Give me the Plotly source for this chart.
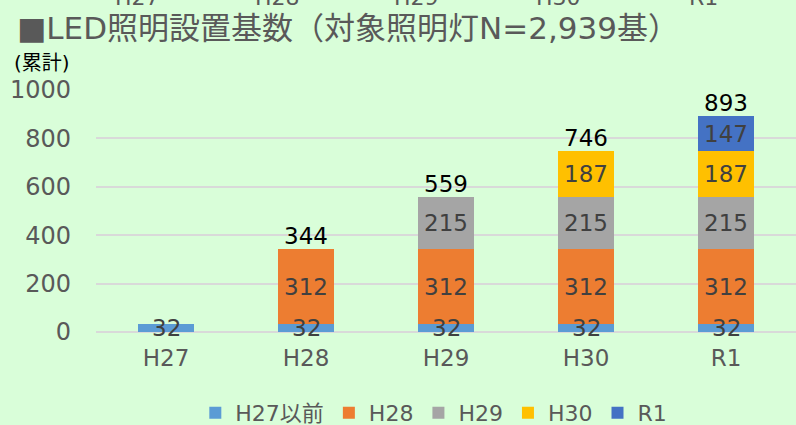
import plotly.graph_objects as go

categories = ["H27", "H28", "H29", "H30", "R1"]
series_names = ["H27以前", "H28", "H29", "H30", "R1"]
s_h27 = [32, 32, 32, 32, 32]
s_h28 = [None, 312, 312, 312, 312]
s_h29 = [None, None, 215, 215, 215]
s_h30 = [None, None, None, 187, 187]
s_r1 = [None, None, None, None, 147]
series_values = [s_h27, s_h28, s_h29, s_h30, s_r1]
colors = ["#5B9BD5", "#ED7D31", "#A5A5A5", "#FFC000", "#4472C4"]
y_ticks = [0, 200, 400, 600, 800, 1000]
top_cut_labels = ["H27", "H28", "H29", "H30", "R1"]

FONT = "DejaVu Sans, Noto Sans CJK JP"
BG = "#D9FED9"
W, H = 796, 425
ML, MR, MT, MB = 96, 0, 90, 93
PW, PH = W - ML - MR, H - MT - MB


def px_x(px):
    return (px - ML) / PW


def px_y(py):
    return (H - MB - py) / PH


fig = go.Figure()
for name, vals, col in zip(series_names, series_values, colors):
    fig.add_trace(go.Bar(
        x=categories, y=vals, name=name, marker=dict(color=col, line=dict(width=0)),
    ))

annotations = []
# segment labels
cum = [0] * len(categories)
for vals in series_values:
    for i, v in enumerate(vals):
        if v:
            annotations.append(dict(
                x=categories[i], y=cum[i] + v / 2, xref="x", yref="y",
                text=str(v), showarrow=False, yanchor="middle",
                font=dict(family=FONT, size=23, color="#404040"),
            ))
            cum[i] += v
# totals
for i, c in enumerate(categories):
    nseg = sum(1 for vals in series_values if vals[i])
    if nseg > 1:
        annotations.append(dict(
            x=c, y=cum[i], xref="x", yref="y", text=str(cum[i]),
            showarrow=False, yanchor="bottom", yshift=-2,
            font=dict(family=FONT, size=23, color="#000000"),
        ))
# unit label
annotations.append(dict(
    x=px_x(12), y=px_y(63), xref="paper", yref="paper", text="(累計)",
    showarrow=False, xanchor="left", yanchor="middle",
    font=dict(family=FONT, size=20, color="#000000"),
))
# Remnant tick labels from the chart above (cut off at the top edge)
cut_x = [137, 277, 416, 558, 703]
for lbl, px in zip(top_cut_labels, cut_x):
    annotations.append(dict(
        x=px_x(px), y=px_y(-3), xref="paper", yref="paper", text=lbl,
        showarrow=False, xanchor="center", yanchor="middle",
        font=dict(family=FONT, size=22, color="#595959"),
    ))

fig.update_layout(
    annotations=annotations,
    width=W, height=H,
    paper_bgcolor=BG, plot_bgcolor=BG,
    barmode="stack", bargap=0.6,
    margin=dict(l=ML, r=MR, t=MT, b=MB),
    font=dict(family=FONT, color="#595959"),
    title=dict(
        text="■LED照明設置基数（対象照明灯N=2,939基）",
        x=17 / W, xanchor="left", xref="container",
        y=1 - 28 / H, yanchor="middle", yref="container",
        font=dict(family=FONT, size=31, color="#595959"),
    ),
    xaxis=dict(
        showgrid=False, showline=False, zeroline=False,
        tickfont=dict(family=FONT, size=23, color="#595959"),
        ticks="", fixedrange=True, ticklabelstandoff=10,
    ),
    yaxis=dict(
        range=[0, 1000], tickvals=y_ticks, showgrid=True,
        gridcolor="#D9D9D9", gridwidth=1.5, zeroline=True,
        zerolinecolor="#D9D9D9", zerolinewidth=1.5,
        tickfont=dict(family=FONT, size=24, color="#595959"),
        ticklabelstandoff=24, showline=False, ticks="",
    ),
    legend=dict(
        orientation="h", x=0.545, xanchor="center", xref="container",
        y=12 / H, yanchor="middle", yref="container",
        font=dict(family=FONT, size=22, color="#595959"),
        bgcolor="rgba(0,0,0,0)", traceorder="normal",
    ),
    showlegend=True,
)

fig.write_html(
    "out.html",
    config={"displayModeBar": False},
    post_script="document.body.style.margin='0';document.body.style.overflow='hidden';"
                "document.body.style.background='" + BG + "';",
)
